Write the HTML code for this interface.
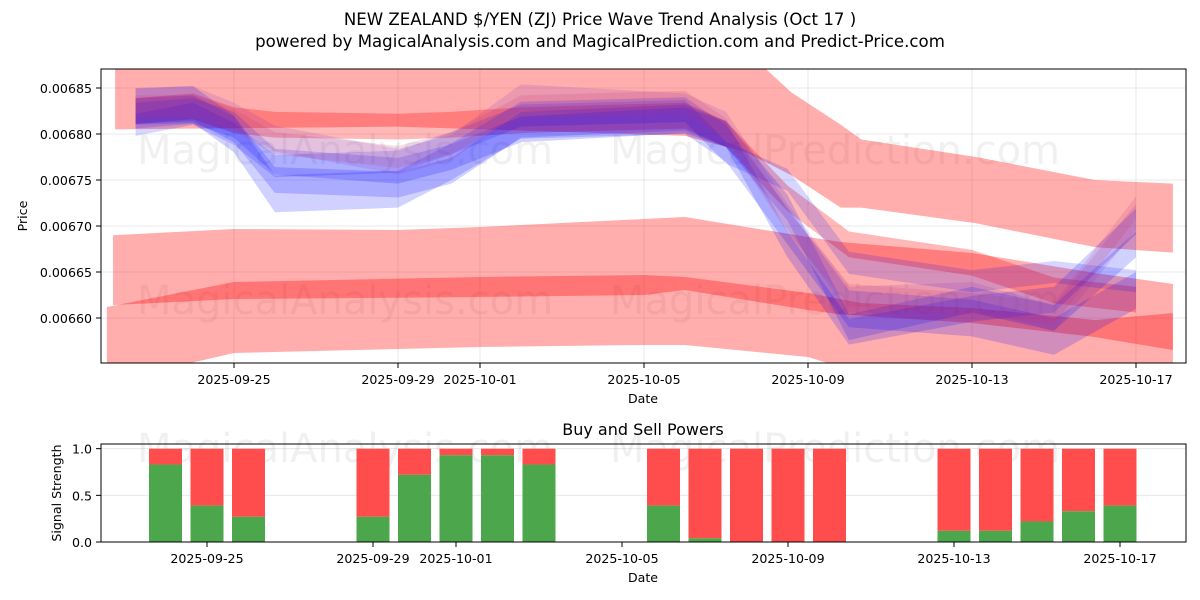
<!DOCTYPE html>
<html><head><meta charset="utf-8">
<style>
body{margin:0;background:#fff;}
svg{display:block;font-family:"DejaVu Sans","Liberation Sans",sans-serif;}
</style></head>
<body>
<svg id="chart" width="1200" height="600" viewBox="0 0 1200 600">
<text x="600" y="25" text-anchor="middle" font-size="16.6">NEW ZEALAND $/YEN (ZJ) Price Wave Trend Analysis (Oct 17 )</text>
<text x="600" y="47" text-anchor="middle" font-size="16.6">powered by MagicalAnalysis.com and MagicalPrediction.com and Predict-Price.com</text>
<defs>
<clipPath id="topclip"><rect x="101" y="69" width="1085" height="294"/></clipPath>
</defs>
<g id="topPanel"></g>
<g id="botPanel"></g>
</svg>
<script>
// ---- data (days offset from 2025-09-25) ----
const topTickDays = [0, 4, 6, 10, 14, 18, 22];
const topTickLabels = ["2025-09-25","2025-09-29","2025-10-01","2025-10-05","2025-10-09","2025-10-13","2025-10-17"];
const yTicks = [0.00660, 0.00665, 0.00670, 0.00675, 0.00680, 0.00685];
const yTickLabels = ["0.00660","0.00665","0.00670","0.00675","0.00680","0.00685"];

const r1Days = [-2.9, 4, 11, 12.5, 13.6, 14.8, 15.3, 18.1, 21, 22.9];
const r1Hi = [0.00690, 0.00690, 0.00690, 0.00689, 0.006845, 0.00681, 0.006794, 0.006775, 0.00675, 0.006746];
const r1Lo = [0.006805, 0.006808, 0.006798, 0.00678, 0.006755, 0.00672, 0.00672, 0.006703, 0.006677, 0.006671];

const r2Days = [-2.95, 0, 4, 6, 10, 11, 14, 14.8, 18, 21, 22.9];
const r2Hi = [0.00669, 0.0066967, 0.0066957, 0.0066989, 0.0067076, 0.0067098, 0.006688, 0.0066826, 0.0066707, 0.0066489, 0.006637];
const r2Lo = [0.0066141, 0.0066206, 0.006622, 0.0066228, 0.006625, 0.0066304, 0.0066087, 0.006604, 0.0065946, 0.0065793, 0.0065652];

const r4Days = [-3.1, 0, 6, 10, 11, 14, 15.3, 18, 21, 22.9];
const r4Hi = [0.0066119, 0.0066391, 0.0066446, 0.0066467, 0.0066446, 0.0066272, 0.0066163, 0.0066109, 0.0065978, 0.0066054];
const r4Lo = [0.00653, 0.006562, 0.0065685, 0.0065707, 0.0065707, 0.0065576, 0.00654, 0.00653, 0.00653, 0.00653];

const waveDays = [-2.4, -1, 0, 1, 4, 5.3, 7, 11, 12, 13.5, 15, 18, 20, 22];
const n1Mid = [0.006825,0.006830,0.006815,0.006810,0.006808,0.006810,0.006815,0.00682,0.00680,0.00673,0.00668,0.00666,0.00663,0.00662];
const b1Mid = [0.00683,0.006832,0.00680,0.006735,0.00674,0.00677,0.006815,0.00682,0.00679,0.00670,0.00661,0.00660,0.00658,0.00663];
const b2Mid = [0.006825,0.006828,0.006805,0.00675,0.006745,0.00676,0.00681,0.006818,0.00680,0.00672,0.00659,0.00662,0.00660,0.00668];
const b3Mid = [0.00682,0.006825,0.00681,0.00677,0.00676,0.006775,0.006805,0.006815,0.0068,0.00668,0.006585,0.00661,0.00662,0.006705];
const b4Mid = [0.00681,0.006822,0.0068,0.006765,0.00677,0.00679,0.00682,0.006825,0.00678,0.00675,0.00666,0.00664,0.00665,0.00664];
const p1Mid = [0.006835,0.006838,0.00682,0.006795,0.00677,0.006785,0.00684,0.00683,0.00681,0.00671,0.00662,0.006625,0.00660,0.00671];
const p2Mid = [0.00683,0.00683,0.006815,0.00679,0.006775,0.00679,0.00683,0.006835,0.006805,0.006705,0.006625,0.006615,0.006605,0.00672];

const barDays = [-1, 0, 1, 4, 5, 6, 7, 8, 11, 12, 13, 14, 15, 18, 19, 20, 21, 22];
const buyPower = [0.83, 0.39, 0.27, 0.27, 0.72, 0.93, 0.93, 0.83, 0.39, 0.04, 0, 0, 0, 0.12, 0.12, 0.22, 0.33, 0.39];
const botTickDays = [0, 4, 6, 10, 14, 18, 22];
const botYTicks = [0.0, 0.5, 1.0];
const botYLabels = ["0.0","0.5","1.0"];

// ---- axes ----
const NS = "http://www.w3.org/2000/svg";
const xT = d => 234 + d * 41;
const yT = v => 88 + (0.00685 - v) / 0.00005 * 46;
const xB = d => 207 + d * 41.5;
const yB = v => 542 - v / 1.05 * 98;
function mk(tag, attrs, parent){ const e=document.createElementNS(NS,tag); for(const k in attrs) e.setAttribute(k,attrs[k]); parent.appendChild(e); return e; }
const topG = document.getElementById('topPanel'), botG = document.getElementById('botPanel');
const FS = 12.6;

topTickDays.forEach((d,i)=>{
  const g = mk('line',{x1:xT(d),x2:xT(d),y1:69,y2:363,stroke:'#b0b0b0','stroke-opacity':0.35,'stroke-width':0.8},topG);
  
  
});
yTicks.forEach((v,i)=>{
  const g = mk('line',{x1:101,x2:1186,y1:yT(v),y2:yT(v),stroke:'#b0b0b0','stroke-opacity':0.35,'stroke-width':0.8},topG);
  
  
});
[[345,150,'MagicalAnalysis.com'],[835,150,'MagicalPrediction.com'],[345,300,'MagicalAnalysis.com'],[835,300,'MagicalPrediction.com']].forEach(w=>{
  const t = mk('text',{x:w[0],y:w[1]+14,'text-anchor':'middle','font-size':40,fill:'#000','fill-opacity':0.06},topG);
  t.textContent = w[2];
  
  
});
const plot = mk('g',{'clip-path':'url(#topclip)'},topG);
function band(days, hi, lo, fill, op, name){
  let pts = days.map((d,i)=>xT(d)+','+yT(hi[i]));
  for(let i=days.length-1;i>=0;i--) pts.push(xT(days[i])+','+yT(lo[i]));
  const p = mk('polygon',{points:pts.join(' '),fill:fill,'fill-opacity':op},plot);
  
  
}
function wave(mid, hw, fill, op, name){
  band(waveDays, mid.map(v=>v+hw), mid.map(v=>v-hw), fill, op, name);
}
band(r1Days, r1Hi, r1Lo, '#ff0000', 0.32, 'upper-red-band');
band(r2Days, r2Hi, r2Lo, '#ff0000', 0.32, 'middle-red-band');
band(r4Days, r4Hi, r4Lo, '#ff0000', 0.32, 'lower-red-band');
wave(n1Mid, 0.000014, '#ff0000', 0.28, 'red-wave-band');
wave(b1Mid, 0.00002, '#0000ff', 0.18, 'blue-wave-band-1');
wave(b2Mid, 0.000014, '#0000ff', 0.18, 'blue-wave-band-2');
wave(b3Mid, 0.000014, '#0000ff', 0.18, 'blue-wave-band-3');
wave(b4Mid, 0.000012, '#0000ff', 0.16, 'blue-wave-band-4');
wave(p1Mid, 0.000014, '#8030c0', 0.16, 'purple-wave-band-1');
wave(p2Mid, 0.000012, '#c03070', 0.16, 'purple-wave-band-2');

const f1 = mk('rect',{x:101,y:69,width:1085,height:294,fill:'none',stroke:'#000','stroke-width':1},topG);


topTickDays.forEach((d,i)=>{
  mk('line',{x1:xT(d),x2:xT(d),y1:363,y2:368,stroke:'#000'},topG);
  const t = mk('text',{x:xT(d),y:384,'text-anchor':'middle','font-size':FS},topG);
  t.textContent = topTickLabels[i];
  
  
});
yTicks.forEach((v,i)=>{
  mk('line',{x1:96,x2:101,y1:yT(v),y2:yT(v),stroke:'#000'},topG);
  const t = mk('text',{x:92,y:yT(v)+5,'text-anchor':'end','font-size':FS},topG);
  t.textContent = yTickLabels[i];
  
  
});
let t1 = mk('text',{x:643,y:403,'text-anchor':'middle','font-size':FS},topG); t1.textContent='Date';


let t2 = mk('text',{x:27,y:216,'text-anchor':'middle','font-size':FS,transform:'rotate(-90 27 216)'},topG); t2.textContent='Price';



// ---- bottom panel ----
let bt = mk('text',{x:643,y:435,'text-anchor':'middle','font-size':16},botG); bt.textContent='Buy and Sell Powers';


[[345,'MagicalAnalysis.com'],[835,'MagicalPrediction.com']].forEach(w=>{
  const t = mk('text',{x:w[0],y:462,'text-anchor':'middle','font-size':40,fill:'#000','fill-opacity':0.06},botG);
  t.textContent = w[1];
  
  
});
botYTicks.forEach(v=>{
  const g = mk('line',{x1:101,x2:1186,y1:yB(v),y2:yB(v),stroke:'#b0b0b0','stroke-opacity':0.35,'stroke-width':0.8},botG);
  
  
});
barDays.forEach((d,i)=>{
  const x = xB(d) - 16.5;
  const b = buyPower[i];
  const s = mk('rect',{x:x,y:yB(1),width:33,height:yB(b)-yB(1),fill:'#ff4c4c'},botG);
  
  
  const g = mk('rect',{x:x,y:yB(b),width:33,height:yB(0)-yB(b),fill:'#4ca64c'},botG);
  
  
});
const f2 = mk('rect',{x:101,y:444,width:1085,height:98,fill:'none',stroke:'#000','stroke-width':1},botG);


botTickDays.forEach((d,i)=>{
  mk('line',{x1:xB(d),x2:xB(d),y1:542,y2:547,stroke:'#000'},botG);
  const t = mk('text',{x:xB(d),y:563,'text-anchor':'middle','font-size':FS},botG);
  t.textContent = topTickLabels[i];
  
  
});
botYTicks.forEach((v,i)=>{
  mk('line',{x1:96,x2:101,y1:yB(v),y2:yB(v),stroke:'#000'},botG);
  const t = mk('text',{x:92,y:yB(v)+5,'text-anchor':'end','font-size':FS},botG);
  t.textContent = botYLabels[i];
  
  
});
let t3 = mk('text',{x:643,y:582,'text-anchor':'middle','font-size':FS},botG); t3.textContent='Date';


let t4 = mk('text',{x:61,y:493,'text-anchor':'middle','font-size':FS,transform:'rotate(-90 61 493)'},botG); t4.textContent='Signal Strength';


</script>
</body></html>
